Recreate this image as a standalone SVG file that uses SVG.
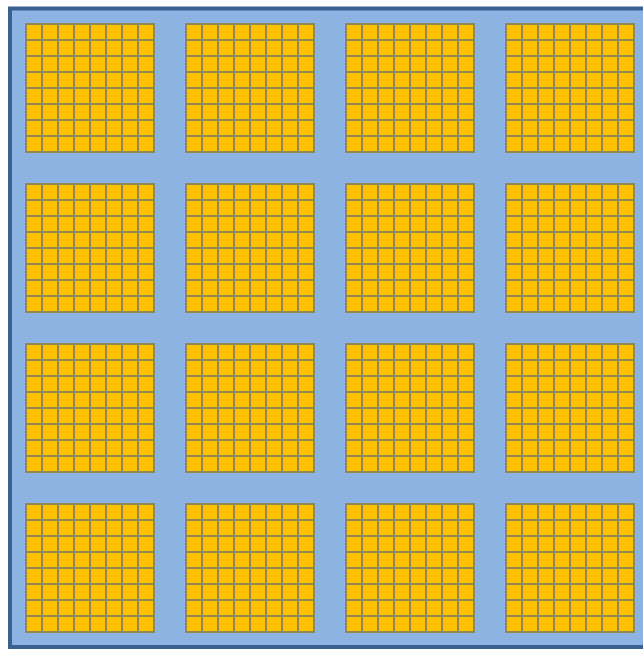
<svg xmlns="http://www.w3.org/2000/svg" xmlns:xlink="http://www.w3.org/1999/xlink" width="643" height="649" viewBox="0 0 643 649">
<style>
.bg{fill:#8DB3E2;stroke:#3A6191;stroke-width:4}
.cell{fill:#FFC000;stroke:#8E8A56;stroke-width:2}
</style>
<defs>
<g id="row">
<rect class="cell" x="1" y="1" width="16" height="16"/>
<rect class="cell" x="17" y="1" width="16" height="16"/>
<rect class="cell" x="33" y="1" width="16" height="16"/>
<rect class="cell" x="49" y="1" width="16" height="16"/>
<rect class="cell" x="65" y="1" width="16" height="16"/>
<rect class="cell" x="81" y="1" width="16" height="16"/>
<rect class="cell" x="97" y="1" width="16" height="16"/>
<rect class="cell" x="113" y="1" width="16" height="16"/>
</g>
<g id="block">
<use xlink:href="#row" y="0"/>
<use xlink:href="#row" y="16"/>
<use xlink:href="#row" y="32"/>
<use xlink:href="#row" y="48"/>
<use xlink:href="#row" y="64"/>
<use xlink:href="#row" y="80"/>
<use xlink:href="#row" y="96"/>
<use xlink:href="#row" y="112"/>
</g>
</defs>
<rect class="bg" x="10" y="8.5" width="700" height="638.5"/>
<g id="blocks">
<use xlink:href="#block" x="25" y="23"/>
<use xlink:href="#block" x="185" y="23"/>
<use xlink:href="#block" x="345" y="23"/>
<use xlink:href="#block" x="505" y="23"/>
<use xlink:href="#block" x="25" y="183"/>
<use xlink:href="#block" x="185" y="183"/>
<use xlink:href="#block" x="345" y="183"/>
<use xlink:href="#block" x="505" y="183"/>
<use xlink:href="#block" x="25" y="343"/>
<use xlink:href="#block" x="185" y="343"/>
<use xlink:href="#block" x="345" y="343"/>
<use xlink:href="#block" x="505" y="343"/>
<use xlink:href="#block" x="25" y="503"/>
<use xlink:href="#block" x="185" y="503"/>
<use xlink:href="#block" x="345" y="503"/>
<use xlink:href="#block" x="505" y="503"/>
</g>
</svg>
